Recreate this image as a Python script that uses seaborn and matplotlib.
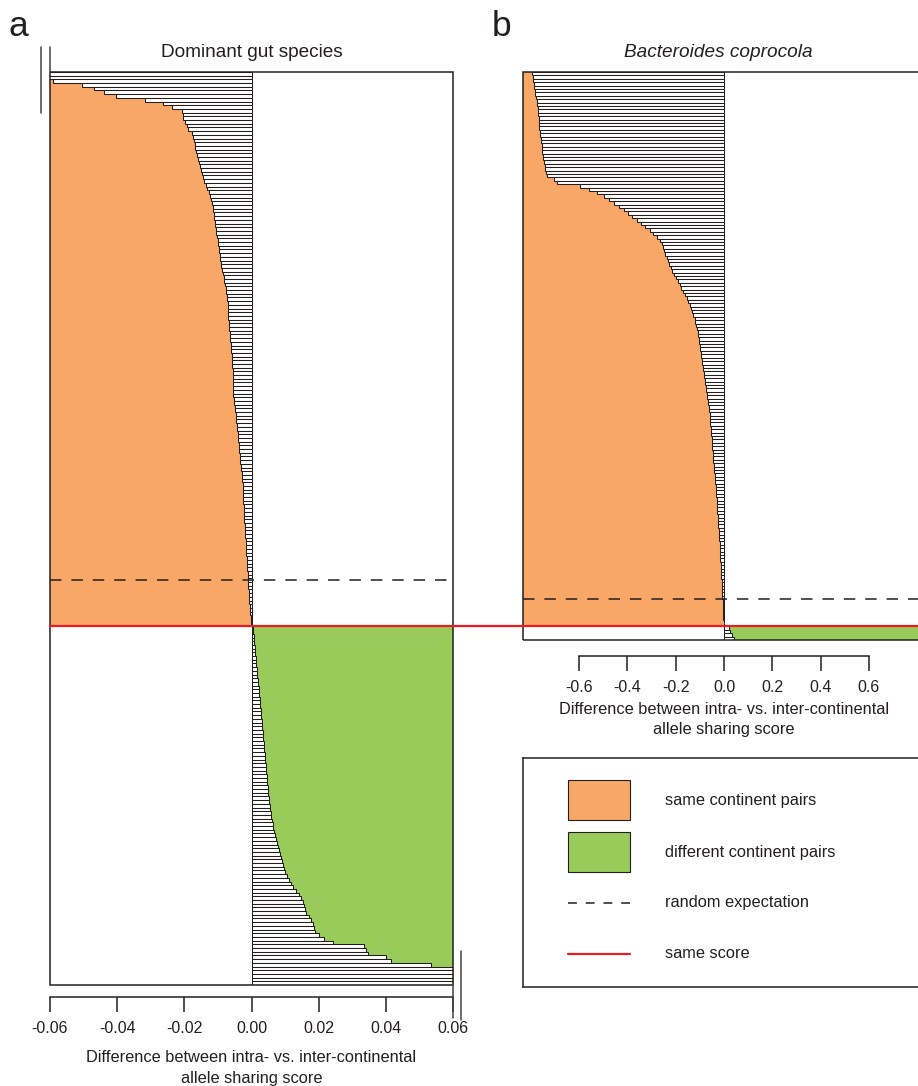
import numpy as np
import pandas as pd
import matplotlib
matplotlib.use("Agg")
import matplotlib.pyplot as plt
import seaborn as sns
from matplotlib.lines import Line2D
from matplotlib.patches import Rectangle
from matplotlib import transforms

# ---------------------------------------------------------------------------
# Difference between intra- and inter-continental allele sharing score,
# one bar per pair, sorted.  "same" rows are same-continent pairs (negative
# scores, top block), "diff" rows are different-continent pairs (bottom block).
# ---------------------------------------------------------------------------

# Panel a: dominant gut species
a_same_continent = [
    -0.0660, -0.0620, -0.0590, -0.0504, -0.0470, -0.0439, -0.0403, -0.0316, -0.0263, -0.0236,
    -0.0206, -0.0204, -0.0203, -0.0199, -0.0192, -0.0188, -0.0176, -0.0174, -0.0171, -0.0169,
    -0.0167, -0.0166, -0.0162, -0.0158, -0.0155, -0.0152, -0.0149, -0.0146, -0.0143, -0.0140,
    -0.0136, -0.0132, -0.0128, -0.0125, -0.0121, -0.0117, -0.0116, -0.0115, -0.0113, -0.0111,
    -0.0110, -0.0108, -0.0106, -0.0105, -0.0103, -0.0101, -0.0100, -0.0098, -0.0097, -0.0095,
    -0.0093, -0.0092, -0.0090, -0.0088, -0.0086, -0.0083, -0.0081, -0.0079, -0.0077, -0.0075,
    -0.0073, -0.0072, -0.0071, -0.0071, -0.0070, -0.0070, -0.0069, -0.0068, -0.0067, -0.0066,
    -0.0065, -0.0064, -0.0063, -0.0062, -0.0061, -0.0060, -0.0059, -0.0058, -0.0057, -0.0057,
    -0.0056, -0.0056, -0.0055, -0.0055, -0.0055, -0.0054, -0.0054, -0.0054, -0.0053, -0.0052,
    -0.0050, -0.0049, -0.0047, -0.0046, -0.0045, -0.0044, -0.0042, -0.0041, -0.0040, -0.0039,
    -0.0038, -0.0037, -0.0036, -0.0035, -0.0034, -0.0033, -0.0031, -0.0030, -0.0029, -0.0028,
    -0.0027, -0.0026, -0.0026, -0.0025, -0.0025, -0.0024, -0.0024, -0.0023, -0.0023, -0.0022,
    -0.0021, -0.0021, -0.0020, -0.0019, -0.0019, -0.0018, -0.0017, -0.0017, -0.0016, -0.0015,
    -0.0015, -0.0014, -0.0013, -0.0013, -0.0012, -0.0011, -0.0011, -0.0010, -0.0009, -0.0009,
    -0.0008, -0.0007, -0.0007, -0.0006, -0.0005, -0.0004, -0.0003, -0.0002, -0.0002, -0.0001,
]
a_diff_continent = [
    0.0003, 0.0005, 0.0006, 0.0007, 0.0008, 0.0009, 0.0010, 0.0011, 0.0012, 0.0013,
    0.0014, 0.0015, 0.0016, 0.0017, 0.0019, 0.0020, 0.0021, 0.0022, 0.0023, 0.0024,
    0.0025, 0.0026, 0.0027, 0.0028, 0.0029, 0.0030, 0.0031, 0.0032, 0.0033, 0.0034,
    0.0035, 0.0036, 0.0037, 0.0038, 0.0039, 0.0040, 0.0041, 0.0042, 0.0043, 0.0044,
    0.0045, 0.0046, 0.0047, 0.0048, 0.0049, 0.0050, 0.0051, 0.0052, 0.0054, 0.0055,
    0.0057, 0.0059, 0.0061, 0.0063, 0.0065, 0.0067, 0.0070, 0.0072, 0.0075, 0.0078,
    0.0081, 0.0084, 0.0087, 0.0090, 0.0093, 0.0096, 0.0100, 0.0105, 0.0112, 0.0118,
    0.0125, 0.0133, 0.0140, 0.0147, 0.0152, 0.0156, 0.0159, 0.0161, 0.0170, 0.0178,
    0.0182, 0.0185, 0.0188, 0.0200, 0.0215, 0.0242, 0.0334, 0.0340, 0.0346, 0.0400,
    0.0415, 0.0534, 0.0610, 0.0620, 0.0630, 0.0640, 0.0650,
]

# Panel b: Bacteroides coprocola
b_same_continent = [
    -0.795, -0.792, -0.790, -0.788, -0.786, -0.784, -0.781, -0.778, -0.775, -0.773,
    -0.771, -0.769, -0.768, -0.767, -0.766, -0.765, -0.764, -0.763, -0.761, -0.759,
    -0.757, -0.755, -0.754, -0.753, -0.751, -0.749, -0.746, -0.743, -0.740, -0.737,
    -0.734, -0.705, -0.690, -0.596, -0.560, -0.526, -0.495, -0.475, -0.455, -0.435,
    -0.415, -0.398, -0.380, -0.362, -0.345, -0.325, -0.306, -0.292, -0.278, -0.265,
    -0.258, -0.252, -0.248, -0.245, -0.238, -0.232, -0.226, -0.220, -0.214, -0.206,
    -0.198, -0.190, -0.183, -0.176, -0.168, -0.160, -0.153, -0.147, -0.140, -0.135,
    -0.131, -0.127, -0.122, -0.118, -0.114, -0.111, -0.108, -0.106, -0.104, -0.102,
    -0.100, -0.099, -0.097, -0.095, -0.093, -0.091, -0.088, -0.086, -0.084, -0.081,
    -0.079, -0.077, -0.075, -0.073, -0.071, -0.069, -0.068, -0.066, -0.064, -0.062,
    -0.060, -0.059, -0.058, -0.056, -0.055, -0.054, -0.052, -0.051, -0.050, -0.049,
    -0.048, -0.047, -0.046, -0.045, -0.044, -0.043, -0.042, -0.041, -0.039, -0.038,
    -0.036, -0.035, -0.034, -0.033, -0.032, -0.031, -0.030, -0.029, -0.028, -0.027,
    -0.026, -0.025, -0.024, -0.023, -0.022, -0.021, -0.020, -0.019, -0.018, -0.018,
    -0.017, -0.016, -0.015, -0.015, -0.014, -0.013, -0.012, -0.012, -0.011, -0.010,
    -0.010, -0.009, -0.008, -0.008, -0.007, -0.006, -0.006, -0.005, -0.004, -0.004,
    -0.003, -0.002, -0.001,
]
b_diff_continent = [0.022, 0.026, 0.033, 0.042]

# Fraction of rows (from the top) expected to be same-continent pairs by chance
a_random_expectation = 0.5564
b_random_expectation = 0.9278

a_ticks = [-0.06, -0.04, -0.02, 0.00, 0.02, 0.04, 0.06]
b_ticks = [-0.6, -0.4, -0.2, 0.0, 0.2, 0.4, 0.6]
a_xlim = (-0.06, 0.06)
b_xlim = (-0.832, 0.832)

a_title = "Dominant gut species"
b_title = "Bacteroides coprocola"
x_label = "Difference between intra- vs. inter-continental\nallele sharing score"
legend_labels = ["same continent pairs", "different continent pairs",
                 "random expectation", "same score"]

ORANGE = "#F8A766"
GREEN = "#99CB5A"
RED = "#ED1C24"
INK = "#231F20"
DASH = (0, (7.5, 6.5))

sns.set_theme(style="white")
plt.rcParams["font.family"] = ["Liberation Sans", "DejaVu Sans"]
plt.rcParams["text.color"] = INK
plt.rcParams["axes.labelcolor"] = INK
plt.rcParams["xtick.color"] = INK

W, H = 918, 1086
fig = plt.figure(figsize=(W / 100, H / 100), dpi=100)


def fig_box(left, top, right, bottom):
    return [left / W, 1 - bottom / H, (right - left) / W, (bottom - top) / H]


ax_a = fig.add_axes(fig_box(50, 72, 453, 985))
ax_b = fig.add_axes(fig_box(523, 72, 925, 640))
ax_l = fig.add_axes(fig_box(523, 758, 925, 987))


def draw_panel(ax, same, diff, xlim, ticks, fmt, expect, spine_offset, labelpad):
    same = np.asarray(same, dtype=float)
    diff = np.asarray(diff, dtype=float)
    values = np.concatenate([same, diff])
    n = len(values)
    ns = len(same)
    lo, hi = xlim

    # coloured step areas behind the bars
    pos_s = np.arange(ns)
    ys = np.column_stack([pos_s - 0.5, pos_s + 0.5]).ravel()
    ax.fill_betweenx(ys, lo, np.repeat(same, 2), color=ORANGE, lw=0)
    pos_d = np.arange(ns, n)
    yd = np.column_stack([pos_d - 0.5, pos_d + 0.5]).ravel()
    ax.fill_betweenx(yd, np.repeat(diff, 2), hi, color=GREEN, lw=0)

    df = pd.DataFrame({"rank": np.arange(n), "score": values})
    sns.barplot(data=df, x="score", y="rank", orient="h", color="white",
                edgecolor=INK, linewidth=0.75, width=1.0, saturation=1,
                errorbar=None, ax=ax)

    ax.set_xlim(lo, hi)
    ax.set_ylim(n - 0.5, -0.5)
    ax.set_yticks([])
    ax.set_ylabel("")

    # random expectation
    ax.axhline(-0.5 + expect * n, color=INK, lw=1.1, ls=DASH, zorder=4)

    # frame
    ax.add_patch(Rectangle((0, 0), 1, 1, transform=ax.transAxes, fill=False,
                           ec=INK, lw=1.1, clip_on=False, zorder=6))
    for side in ("left", "right", "top"):
        ax.spines[side].set_visible(False)
    sp = ax.spines["bottom"]
    sp.set_position(("outward", spine_offset))
    sp.set_bounds(ticks[0], ticks[-1])
    sp.set_color(INK)
    sp.set_linewidth(1.1)
    ax.set_xticks(ticks)
    ax.set_xticklabels([fmt.format(t) for t in ticks])
    ax.tick_params(axis="x", bottom=True, direction="out", length=10.5,
                   width=1.1, pad=6.5, labelsize=11.5, colors=INK)
    ax.set_xlabel(x_label, fontsize=11.8, labelpad=labelpad, linespacing=1.45)
    return ns - 0.5


boundary_a = draw_panel(ax_a, a_same_continent, a_diff_continent, a_xlim,
                        a_ticks, "{:.2f}", a_random_expectation, 8.6, 10.5)
boundary_b = draw_panel(ax_b, b_same_continent, b_diff_continent, b_xlim,
                        b_ticks, "{:.1f}", b_random_expectation, 11.5, 5.0)

ax_a.set_title(a_title, fontsize=13.7, pad=10.8)
ax_b.set_title(b_title, fontsize=13.7, pad=10.8, style="italic", x=0.486)

# "same score" line running across both panels
same_score = Line2D([ax_a.get_position().x0, 1.0], [boundary_a, boundary_a],
                    color=RED, lw=1.6, zorder=7,
                    transform=transforms.blended_transform_factory(fig.transFigure, ax_a.transData))
fig.add_artist(same_score)

# panel letters
fig.text(9 / W, 1 - 36 / H, "a", fontsize=25.5, va="baseline", ha="left")
fig.text(492 / W, 1 - 36 / H, "b", fontsize=25.5, va="baseline", ha="left")

# stray axis rules at the corners of panel a
rule = dict(color="#444444", lw=1.1)
fig.add_artist(Line2D([41 / W, 41 / W], [1 - 47 / H, 1 - 113 / H], **rule))
fig.add_artist(Line2D([50 / W, 50 / W], [1 - 47 / H, 1 - 72 / H], **rule))
fig.add_artist(Line2D([453 / W, 453 / W], [1 - 985 / H, 1 - 1018 / H], **rule))
fig.add_artist(Line2D([461 / W, 461 / W], [1 - 951 / H, 1 - 1020 / H], **rule))

# legend box, laid out in pixel units of the box
ax_l.set_xlim(0, 402)
ax_l.set_ylim(229, 0)
ax_l.set_xticks([])
ax_l.set_yticks([])
for sp in ax_l.spines.values():
    sp.set_visible(True)
    sp.set_color(INK)
    sp.set_linewidth(1.1)
row_y = [42, 94, 145, 196]
ax_l.add_patch(Rectangle((45, row_y[0] - 20), 62, 40, fc=ORANGE, ec=INK, lw=0.8))
ax_l.add_patch(Rectangle((45, row_y[1] - 20), 62, 40, fc=GREEN, ec=INK, lw=0.8))
ax_l.plot([45, 107], [row_y[2], row_y[2]], color=INK, lw=1.1, ls=(0, (5.8, 5.8)))
ax_l.plot([45, 107], [row_y[3], row_y[3]], color=RED, lw=1.6)
for y, label in zip(row_y, legend_labels):
    ax_l.text(142, y, label, fontsize=11.8, va="center", ha="left")

fig.savefig("out.png", dpi=100)
